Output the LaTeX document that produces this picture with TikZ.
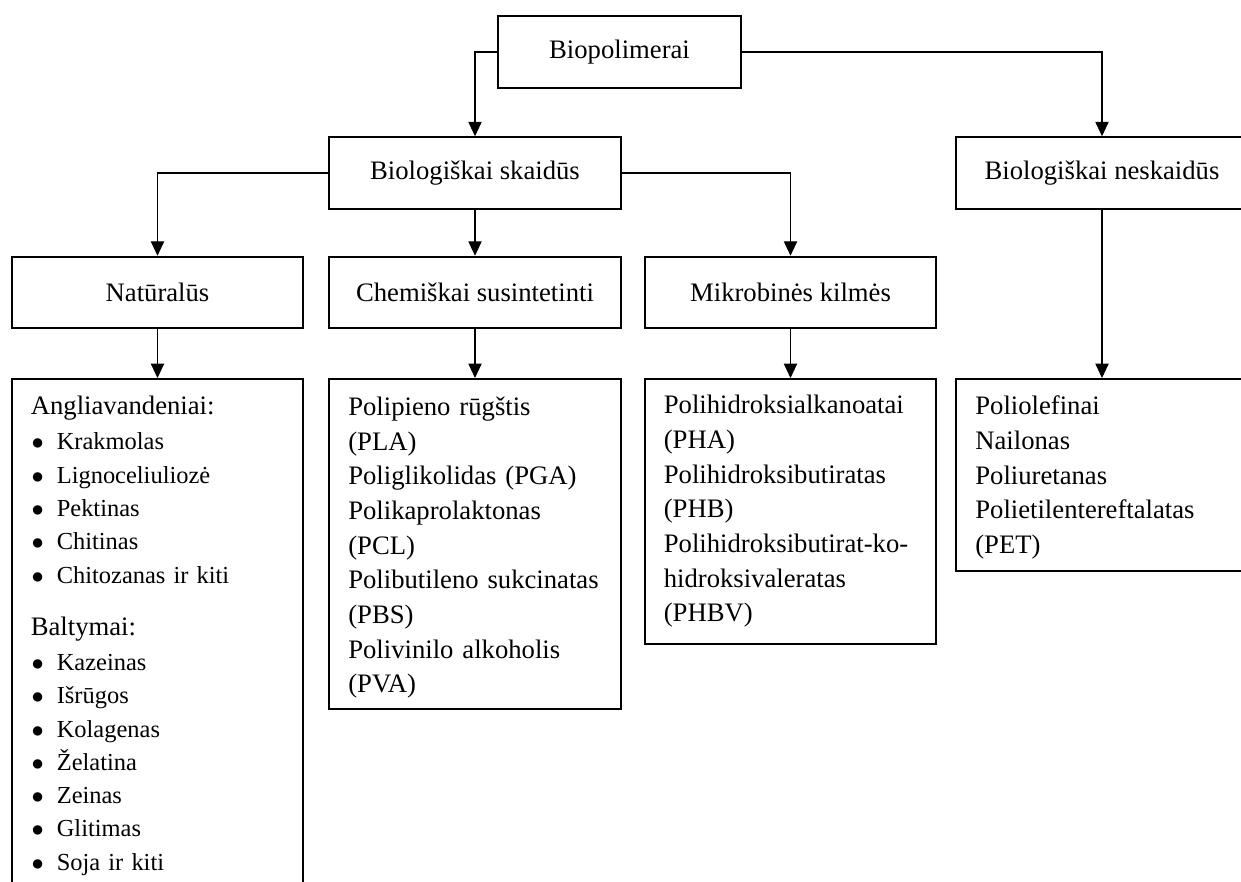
\documentclass[tikz,border=0pt]{standalone}
\usepackage{fontspec}
\setmainfont{Liberation Serif}
\usetikzlibrary{arrows.meta}
\newcommand\itm{\makebox[11.7pt][l]{\hspace{0.4pt}$\bullet$}}

\begin{document}
\begin{tikzpicture}[x=0.45pt, y=-0.45pt,
    box/.style={draw, line width=0.9pt, minimum width=131pt, minimum height=32.2pt, inner sep=0pt, font=\fontsize{12}{15.6}\selectfont},
    listbox/.style={draw, line width=0.9pt, anchor=north, align=left, text width=114pt, inner xsep=8.5pt, inner ysep=0pt, font=\fontsize{12}{15.6}\selectfont},
    arr/.style={line width=0.5pt, -{Triangle[length=6.5pt, width=6pt]}}]
    \path[use as bounding box, clip] (0,0) rectangle (1241,881);
    \node[box, minimum width=109.35pt] (bio) at (619.5,52) {Biopolimerai};
    \node[box] (skaid) at (475,173) {Biologiškai skaidūs};
    \node[box] (neskaid) at (1102,173) {Biologiškai neskaidūs};
    \node[box] (nat) at (157.5,292.5) {Natūralūs};
    \node[box] (chem) at (475,292.5) {Chemiškai susintetinti};
    \node[box] (mikro) at (790.5,292.5) {Mikrobinės kilmės};
    \node[listbox, minimum height=231.3pt, font=\fontsize{11}{15}\selectfont] (natlist) at (157.5,378) {%
        {\fontsize{12}{15}\selectfont Angliavandeniai:}\\[0.75pt]
        \itm Krakmolas\\
        \itm Lignoceliuliozė\\
        \itm Pektinas\\
        \itm Chitinas\\
        \itm Chitozanas ir kiti\\[8.4pt]
        {\fontsize{12}{15}\selectfont Baltymai:}\\[0.75pt]
        \itm Kazeinas\\
        \itm Išrūgos\\
        \itm Kolagenas\\
        \itm Želatina\\
        \itm Zeinas\\
        \itm Glitimas\\
        \itm Soja ir kiti};
    \node[listbox, minimum height=148.5pt] (chemlist) at (475,378) {%
        \rule{0pt}{11.8pt}Polipieno rūgštis\\(PLA)\\Poliglikolidas (PGA)\\Polikaprolaktonas\\(PCL)\\%
        Polibutileno sukcinatas\\(PBS)\\Polivinilo alkoholis\\(PVA)};
    \node[listbox, minimum height=119.25pt] (mikrolist) at (790.5,378) {%
        Polihidroksialkanoatai\\(PHA)\\Polihidroksibutiratas\\(PHB)\\%
        Polihidroksibutirat-ko-\\hidroksivaleratas\\(PHBV)};
    \node[listbox, minimum height=86.4pt] (neslist) at (1102,378) {%
        \rule{0pt}{10.9pt}Poliolefinai\\Nailonas\\Poliuretanas\\Polietilentereftalatas\\(PET)};
    \draw[arr] (bio.west) -| (skaid.north);
    \draw[arr] (bio.east) -| (neskaid.north);
    \draw[arr] (skaid.west) -| (nat.north);
    \draw[arr] (skaid.south) -- (chem.north);
    \draw[arr] (skaid.east) -| (mikro.north);
    \draw[arr] (nat.south) -- (natlist.north);
    \draw[arr] (chem.south) -- (chemlist.north);
    \draw[arr] (mikro.south) -- (mikrolist.north);
    \draw[arr] (neskaid.south) -- (neslist.north);
\end{tikzpicture}
\end{document}
